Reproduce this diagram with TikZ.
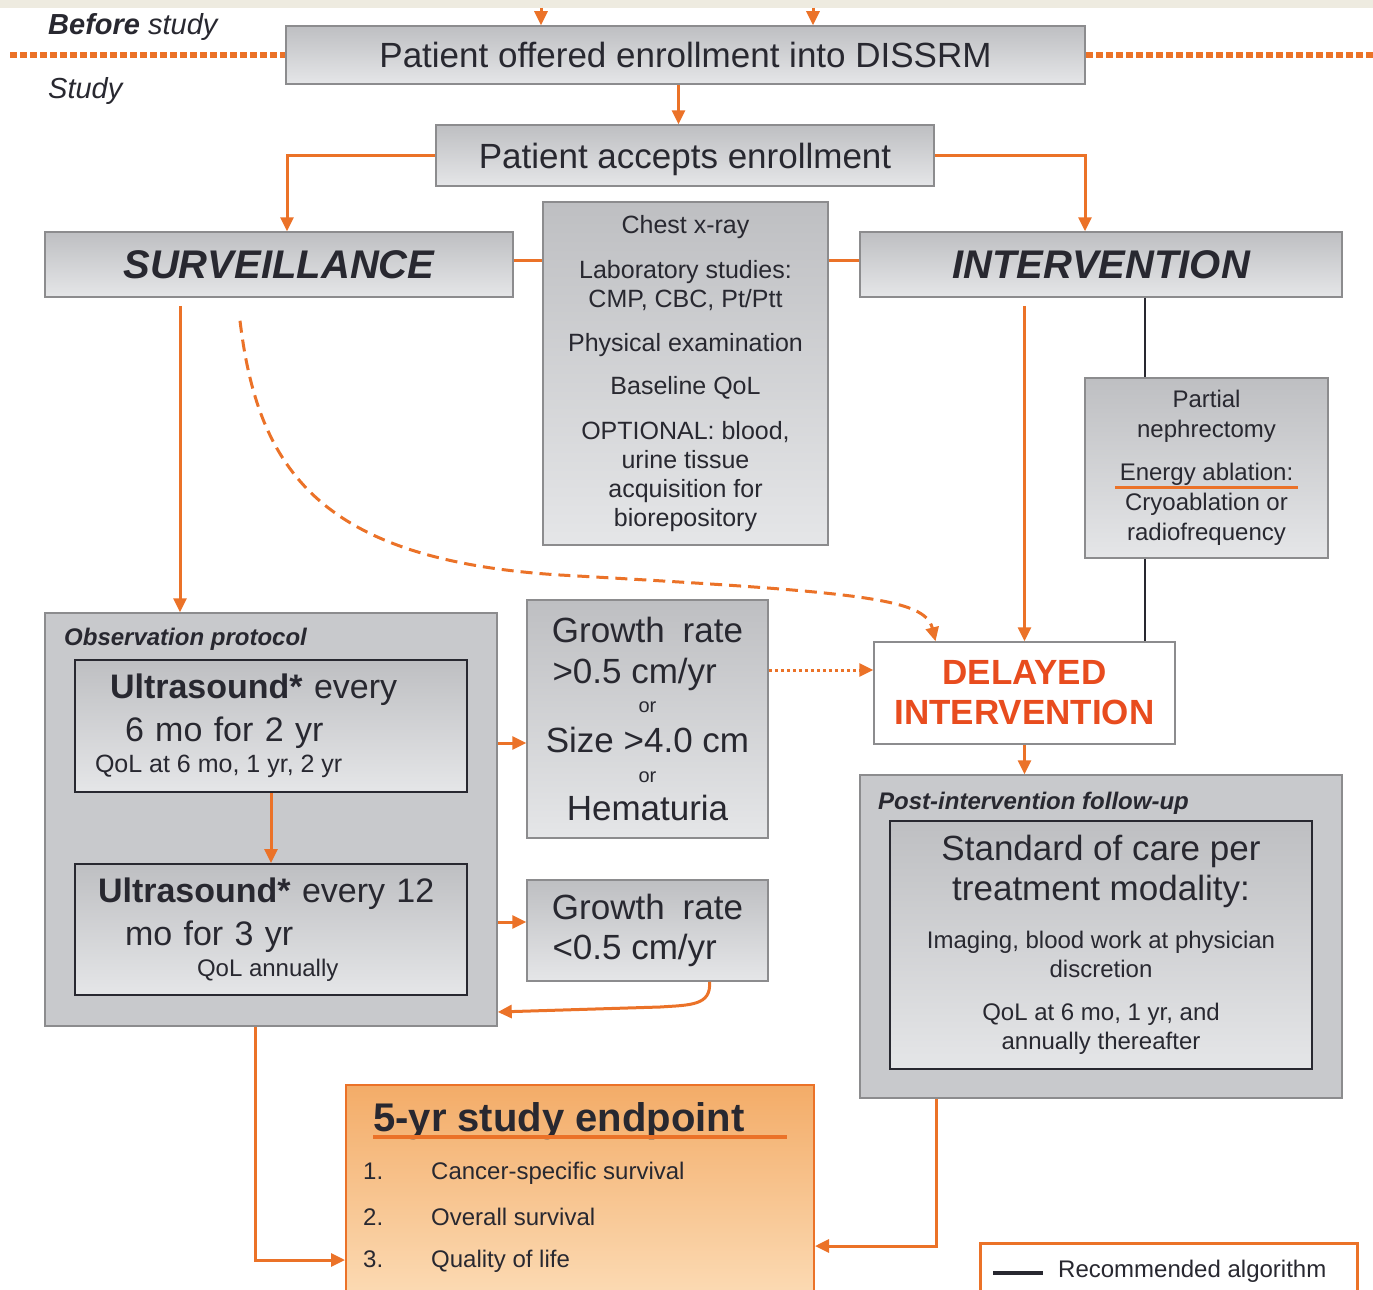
\documentclass[tikz,border=0pt]{standalone}
\usepackage{fontspec}
\setmainfont{Liberation Sans}
\usetikzlibrary{arrows.meta}
\definecolor{flow}{RGB}{235,114,40}
\definecolor{alert}{RGB}{232,76,30}
\definecolor{ink}{RGB}{40,40,48}
\definecolor{boxline}{RGB}{140,140,142}
\definecolor{shadetop}{RGB}{190,191,194}
\definecolor{shadebot}{RGB}{229,230,232}
\definecolor{panel}{RGB}{200,201,204}
\definecolor{endtop}{RGB}{243,172,104}
\definecolor{endbot}{RGB}{253,226,192}
\definecolor{strip}{RGB}{238,235,224}
\newcommand{\fsz}[2]{\fontsize{#1}{#2}\selectfont\spaceskip=0pt\xspaceskip=0pt}
\tikzset{>={Triangle[length=14pt,width=13pt]}}
\tikzset{
  graybox/.style={draw=boxline, line width=1.5pt, top color=shadetop,
    bottom color=shadebot, inner sep=0pt, align=center, text=ink},
  container/.style={draw=boxline, line width=1.5pt, fill=panel, inner sep=0pt},
  innerbox/.style={draw=ink, line width=2pt, top color=shadetop,
    bottom color=shadebot, inner ysep=0pt, text=ink},
  flowline/.style={draw=flow, line width=3pt},
  flowarrow/.style={flowline, ->},
  divider/.style={draw=flow, line width=6pt, dash pattern=on 7pt off 3pt},
  plain/.style={text=ink, inner sep=0pt},
}
\begin{document}
\begin{tikzpicture}[x=1pt,y=-1pt]
  \useasboundingbox (0,0) rectangle (1373,1290);
  \fill[strip] (0,0) rectangle (1373,8);

  % enrollment
  \node[plain, anchor=base west, font=\fsz{29}{34}\itshape] (before) at (48,35) {\textbf{Before} study};
  \node[plain, anchor=base west, font=\fsz{29}{34}\itshape] (study) at (48,99) {Study};
  \node[graybox, minimum width=799pt, minimum height=58pt, font=\fsz{35}{40}] (offer) at (685.5,55)
    {Patient offered enrollment into DISSRM};
  \node[graybox, minimum width=498pt, minimum height=61pt, text depth=0pt, font=\fsz{35}{40}] (accept) at (685,155.5)
    {Patient accepts enrollment};
  \coordinate (lend) at (10,55);
  \coordinate (rend) at (1373,55);
  \draw[divider] (lend) -- (offer.west);
  \draw[divider] (offer.east) -- (rend);
  \coordinate (inA) at (541,8);
  \coordinate (inB) at (813,8);
  \draw[flowarrow] (inA) -- (inA |- offer.north);
  \draw[flowarrow] (inB) -- (inB |- offer.north);
  \draw[flowarrow] ([xshift=-7pt]offer.south) -- ([xshift=-7pt]offer.south |- accept.north);

  % arms
  \node[graybox, minimum width=468pt, minimum height=65pt, font=\fsz{40}{44}\bfseries\itshape] (surv) at (279,264.5)
    {SURVEILLANCE};
  \node[graybox, minimum width=482pt, minimum height=65pt, font=\fsz{40}{44}\bfseries\itshape] (interv) at (1101,264.5)
    {INTERVENTION};
  \node[graybox, minimum width=285pt, minimum height=343pt, font=\fsz{25}{29}] (checks) at (685.5,373.5)
    {Chest x-ray\\[16pt] Laboratory studies:\\ CMP, CBC, Pt/Ptt\\[15pt] Physical examination\\[14pt]
     Baseline QoL\\[16pt] OPTIONAL: blood,\\ urine tissue\\ acquisition for\\ biorepository};
  \draw[flowarrow] (accept.west) -| ([xshift=8pt]surv.north);
  \draw[flowarrow] (accept.east) -| ([xshift=-16pt]interv.north);
  \coordinate (ylink) at (0,260);
  \draw[flowline] (surv.east |- ylink) -- (checks.west |- ylink);
  \draw[flowline] (checks.east |- ylink) -- (interv.west |- ylink);

  % intervention side
  \node[graybox, minimum width=243pt, minimum height=180pt, font=\fsz{24}{30}] (partial) at (1206.5,468)
    {Partial\\ nephrectomy\\[13pt] Energy ablation:\\ Cryoablation or\\ radiofrequency};
  \draw[flow, line width=3pt] (1115,487) -- (1298,487);
  \node[draw=boxline, line width=1.5pt, fill=white, minimum width=301pt, minimum height=102pt,
    align=center, inner sep=0pt, text=alert, font=\fsz{35}{40}\bfseries] (delayed) at (1024.5,693)
    {DELAYED\\ INTERVENTION};
  \coordinate (xcut) at (1145,0);
  \draw[ink, line width=2pt] (xcut |- interv.south) -- (xcut |- partial.north);
  \draw[ink, line width=2pt] (xcut |- partial.south) -- (xcut |- delayed.north);
  \draw[flowarrow, shorten <=8pt] (delayed.north |- interv.south) -- (delayed.north);

  % observation protocol
  \node[container, minimum width=452pt, minimum height=413pt] (obs) at (271,819.5) {};
  \node[plain, anchor=base west, font=\fsz{24}{28}\bfseries\itshape] (obstitle) at (64,645) {Observation protocol};
  \node[innerbox, minimum width=392pt, minimum height=132pt, text width=352pt, inner xsep=20pt,
    align=left, font=\fsz{34}{43}] (us6) at (271,726)
    {\hspace*{15pt}\textbf{Ultrasound*} every\\ \hspace*{30pt}6 mo for 2 yr\\[-12pt]
     {\fsz{25}{29}QoL at 6 mo, 1 yr, 2 yr}};
  \node[innerbox, minimum width=392pt, minimum height=131pt, text width=352pt, inner xsep=20pt,
    align=left, font=\fsz{34}{43}] (us12) at (271,929.5)
    {\hspace*{3pt}\textbf{Ultrasound*} every 12\\ \hspace*{30pt}mo for 3 yr\\[-12pt]
     \hspace*{102pt}{\fsz{24}{29}QoL annually}};
  \draw[flowarrow] (us6.south) -- (us12.north);
  \coordinate (xobs) at (180,0);
  \draw[flowarrow, shorten <=8pt] (xobs |- surv.south) -- (xobs |- obs.north);

  % triggers
  \node[graybox, minimum width=241pt, minimum height=238pt, font=\fsz{35}{41}] (growthA) at (647.5,719)
    {Growth\hspace{18pt}rate\\ \makebox[190pt][l]{>0.5 cm/yr}\\[-12pt] {\fsz{20}{24}or}\\[-1pt]
     Size >4.0 cm\\[-11pt] {\fsz{20}{24}or}\\[-3pt] Hematuria};
  \node[graybox, minimum width=241pt, minimum height=101pt, font=\fsz{35}{40}] (growthB) at (647.5,930.5)
    {Growth\hspace{18pt}rate\\ \makebox[190pt][l]{<0.5 cm/yr}};
  \coordinate (ya) at (0,743);
  \coordinate (yb) at (0,922);
  \coordinate (yc) at (0,1012);
  \coordinate (yd) at (0,670);
  \draw[flowarrow] (obs.east |- ya) -- (growthA.west |- ya);
  \draw[flowarrow] (obs.east |- yb) -- (growthB.west |- yb);
  \draw[flowarrow] ([xshift=62pt]growthB.south) .. controls +(2,24) and +(30,-2) .. (660,1007)
    -- (obs.east |- yc);
  \draw[flowarrow, dash pattern=on 3pt off 3pt] (growthA.east |- yd) -- (delayed.west |- yd);
  \draw[flowarrow, dash pattern=on 12pt off 7pt]
    ([xshift=-39pt,yshift=-23pt]surv.south) .. controls (258,470) and (320,560) .. (560,575)
    .. controls (860,592) and (925,598) .. ([xshift=-89pt]delayed.north);

  % follow-up
  \node[container, minimum width=482pt, minimum height=323pt] (post) at (1101,936.5) {};
  \node[plain, anchor=base west, font=\fsz{24}{28}\bfseries\itshape] (posttitle) at (878,809) {Post-intervention follow-up};
  \node[innerbox, minimum width=422pt, minimum height=248pt, inner xsep=0pt, align=center,
    font=\fsz{35}{40}] (care) at (1101,945)
    {Standard of care per\\ treatment modality:\\[8pt] {\fsz{24}{29}Imaging, blood work at physician}\\[-11pt]
     {\fsz{24}{29}discretion}\\[3pt] {\fsz{24}{29}QoL at 6 mo, 1 yr, and}\\[-11pt]
     {\fsz{24}{29}annually thereafter}};
  \draw[flowarrow] (delayed.south) -- (delayed.south |- post.north);

  % endpoint
  \node[draw=flow, line width=2pt, top color=endtop, bottom color=endbot, minimum width=468pt,
    minimum height=245pt, inner sep=0pt] (endpt) at (580,1207.5) {};
  \node[plain, anchor=base west, font=\fsz{40}{44}\bfseries] (endtitle) at (373,1131) {5-yr study endpoint};
  \draw[flow, line width=4pt] (373,1137) -- (787,1137);
  \foreach \n/\txt/\yy in {1/Cancer-specific survival/1179, 2/Overall survival/1225, 3/Quality of life/1267}{
    \node[plain, anchor=base west, font=\fsz{24}{28}] (num\n) at (363,\yy) {\n.};
    \node[plain, anchor=base west, font=\fsz{24}{28}] (item\n) at (431,\yy) {\txt};
  }
  \coordinate (ye) at (0,1260);
  \coordinate (yf) at (0,1246);
  \draw[flowarrow] ([xshift=-16pt]obs.south) |- (endpt.west |- ye);
  \draw[flowarrow] ([xshift=-165pt]post.south) |- (endpt.east |- yf);

  % legend
  \node[draw=flow, line width=3pt, fill=white, minimum width=377pt, minimum height=77pt, inner sep=0pt]
    (legend) at (1168.5,1281.5) {};
  \draw[ink, line width=4pt] (993,1273) -- (1043,1273);
  \node[plain, anchor=base west, font=\fsz{24}{28}] (legendtxt) at (1058,1277) {Recommended algorithm};
\end{tikzpicture}
\end{document}
